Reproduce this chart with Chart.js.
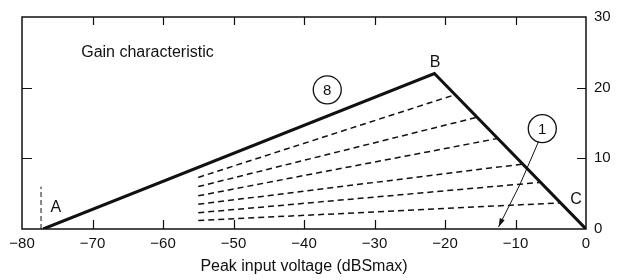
<!DOCTYPE html>
<html>
<head>
<meta charset="utf-8">
<script src="https://cdn.jsdelivr.net/npm/chart.js@4.4.1/dist/chart.umd.min.js"></script>
<style>
  html, body { margin: 0; padding: 0; background: #fff; }
  canvas { display: block; }
</style>
</head>
<body>
<canvas id="gain" width="618" height="280"></canvas>
<script>
// Gain characteristic: solid A-B-C envelope plus the fan of dashed curves (2..7)

const envelopeX = [-77, -21.5, 0];
const envelopeY = [0, 22, 0];

// dashed curves start at -55 dB and end on the B-C slope
const dashStartX = -55;
const dashStartY = [7.3, 6.0, 4.7, 3.5, 2.3, 1.2];
const dashEndX = [-18.6, -15.5, -12.6, -8.9, -6.5, -3.7];
const dashEndY = [19.0, 15.8, 12.8, 9.2, 6.6, 3.7];

// short dashed marker at A
const markerX = [-77.3, -77.3];
const markerY = [0, 6];

const xTicks = [-80, -70, -60, -50, -40, -30, -20, -10, 0];
const yTicks = [0, 10, 20, 30];

// text annotations in data units
const letterLabels = [
  { text: "A", x: -75.2, y: 3.0 },
  { text: "B", x: -21.4, y: 23.5 },
  { text: "C", x: -1.4, y: 4.1 }
];
const circleLabels = [
  { text: "8", x: -36.7, y: 19.7 },
  { text: "1", x: -6.2, y: 14.2 }
];
const arrowTip = { x: -12.4, y: 0.3 };
const chartTitle = { text: "Gain characteristic", x: -71.6, y: 24.9 };

const INK = "#111";

const datasets = [
  {
    data: envelopeX.map((x, i) => ({ x, y: envelopeY[i] })),
    borderColor: INK, borderWidth: 3, pointRadius: 0, showLine: true,
    borderJoinStyle: "miter"
  },
  {
    data: markerX.map((x, i) => ({ x, y: markerY[i] })),
    borderColor: INK, borderWidth: 1, borderDash: [5, 3], pointRadius: 0, showLine: true
  }
];
dashStartY.forEach((y0, i) => {
  datasets.push({
    data: [{ x: dashStartX, y: y0 }, { x: dashEndX[i], y: dashEndY[i] }],
    borderColor: INK, borderWidth: 1.5, borderDash: [6, 4], pointRadius: 0, showLine: true
  });
});

// frame + inward ticks on all four sides
const framePlugin = {
  id: "frame",
  beforeDatasetsDraw(chart) {
    const { ctx, chartArea: a, scales: { x, y } } = chart;
    ctx.save();
    ctx.strokeStyle = INK;
    ctx.lineWidth = 1.5;
    ctx.strokeRect(a.left, a.top, a.right - a.left, a.bottom - a.top);
    ctx.lineWidth = 1.2;
    ctx.beginPath();
    xTicks.slice(1, -1).forEach(v => {
      const px = Math.round(x.getPixelForValue(v)) + 0.5;
      ctx.moveTo(px, a.bottom); ctx.lineTo(px, a.bottom - 9);
      ctx.moveTo(px, a.top); ctx.lineTo(px, a.top + 8);
    });
    yTicks.slice(1, -1).forEach(v => {
      const py = Math.round(y.getPixelForValue(v)) + 0.5;
      ctx.moveTo(a.left, py); ctx.lineTo(a.left + 10, py);
      ctx.moveTo(a.right, py); ctx.lineTo(a.right - 9, py);
    });
    ctx.stroke();
    ctx.restore();
  }
};

const notesPlugin = {
  id: "notes",
  afterDatasetsDraw(chart) {
    const { ctx, scales: { x, y } } = chart;
    ctx.save();
    ctx.fillStyle = INK;
    ctx.strokeStyle = INK;
    ctx.textBaseline = "middle";

    ctx.font = "16px 'Liberation Sans', Arial, sans-serif";
    ctx.textAlign = "left";
    ctx.fillText(chartTitle.text, x.getPixelForValue(chartTitle.x), y.getPixelForValue(chartTitle.y));

    ctx.textAlign = "center";
    letterLabels.forEach(l => {
      ctx.fillText(l.text, x.getPixelForValue(l.x), y.getPixelForValue(l.y));
    });

    const r = 14;
    ctx.lineWidth = 1.3;
    ctx.font = "15px 'Liberation Sans', Arial, sans-serif";
    circleLabels.forEach(c => {
      const cx = x.getPixelForValue(c.x), cy = y.getPixelForValue(c.y);
      ctx.beginPath();
      ctx.arc(cx, cy, r, 0, Math.PI * 2);
      ctx.stroke();
      ctx.fillText(c.text, cx, cy + 1);
    });

    // arrow from circle 1 down to the 0 dB gain line
    const c1 = circleLabels[1];
    const cx = x.getPixelForValue(c1.x), cy = y.getPixelForValue(c1.y);
    const tx = x.getPixelForValue(arrowTip.x), ty = y.getPixelForValue(arrowTip.y);
    const ang = Math.atan2(ty - cy, tx - cx);
    const sx = cx + r * Math.cos(ang) + 2, sy = cy + r * Math.sin(ang);
    ctx.lineWidth = 1;
    ctx.beginPath();
    ctx.moveTo(sx, sy);
    ctx.quadraticCurveTo((sx + tx) / 2 + 3, (sy + ty) / 2, tx, ty);
    ctx.stroke();
    const head = 9, spread = 0.3;
    const a2 = Math.atan2(ty - sy, tx - sx);
    ctx.beginPath();
    ctx.moveTo(tx, ty);
    ctx.lineTo(tx - head * Math.cos(a2 - spread), ty - head * Math.sin(a2 - spread));
    ctx.lineTo(tx - head * Math.cos(a2 + spread), ty - head * Math.sin(a2 + spread));
    ctx.closePath();
    ctx.fill();

    ctx.restore();
  }
};

Chart.defaults.font.family = "'Liberation Sans', Arial, Helvetica, sans-serif";
Chart.defaults.color = INK;

const minus = v => String(v).replace("-", "\u2212");

new Chart(document.getElementById("gain"), {
  type: "scatter",
  data: { datasets },
  options: {
    responsive: false,
    animation: false,
    layout: { padding: { left: 22, top: 16, right: 0, bottom: 0 } },
    plugins: { legend: { display: false }, tooltip: { enabled: false } },
    scales: {
      x: {
        type: "linear", min: -80, max: 0,
        afterBuildTicks: s => { s.ticks = xTicks.map(v => ({ value: v })); },
        afterFit: s => { s.height = 51; },
        grid: { display: false, drawTicks: false },
        border: { display: false },
        ticks: { padding: 6, font: { size: 15 }, maxRotation: 0, callback: minus },
        title: {
          display: true, text: "Peak input voltage (dBSmax)",
          font: { size: 16 }, padding: { top: 2, bottom: 4 }
        }
      },
      y: {
        type: "linear", position: "right", min: 0, max: 30,
        afterBuildTicks: s => { s.ticks = yTicks.map(v => ({ value: v })); },
        afterFit: s => { s.width = 32; },
        grid: { display: false, drawTicks: false },
        border: { display: false },
        ticks: { padding: 8, font: { size: 15 } }
      }
    }
  },
  plugins: [framePlugin, notesPlugin]
});
</script>
</body>
</html>
